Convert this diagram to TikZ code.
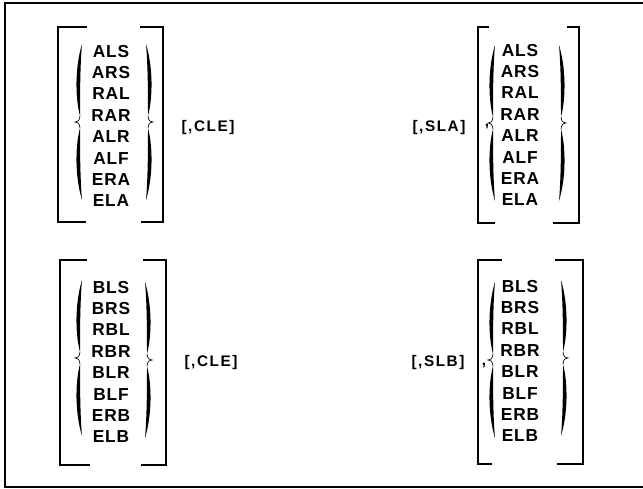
\documentclass[tikz,border=0pt]{standalone}
\usepackage{fontspec}
\setmainfont{Liberation Sans}
\newfontfamily\optfont[LetterSpace=5]{Liberation Sans}
\newfontfamily\keyfont[LetterSpace=10]{Liberation Sans}
\begin{document}
\begin{tikzpicture}[x=0.75pt, y=-0.75pt,
        opt/.style={font=\optfont\bfseries\fontsize{13}{16.05}\selectfont, align=center, inner sep=0pt},
        key/.style={font=\keyfont\bfseries\fontsize{11.5}{13}\selectfont, inner sep=0pt},
        bracket/.style={line width=1.1pt},
        frame/.style={line width=1.5pt},
        lbrace/.pic={
            \fill (7,-78) .. controls (0,-55) and (0,-25) .. (5,-6) .. controls (5,-25) and (5,-55) .. (7,-78) -- cycle;
            \fill (7,78) .. controls (0,55) and (0,25) .. (5,6) .. controls (5,25) and (5,55) .. (7,78) -- cycle;
            \draw[line width=0.5pt] (5,-6) .. controls (4,-1) .. (0,0) .. controls (4,1) .. (5,6);
        }]
        \useasboundingbox (0,0) rectangle (643,489);
        \draw[frame] (643,3) -- (5,3) -- (5,487) -- (643,487);

        % upper row
        \node[opt] (alist) at (111,126) {ALS\\ARS\\RAL\\RAR\\ALR\\ALF\\ERA\\ELA};
        \draw[bracket] (87,27) -- (58,27) -- (58,222) -- (86,222);
        \draw[bracket] (140,27) -- (163,27) -- (163,222) -- (141,222);
        \pic at (75,122) {lbrace};
        \pic[xscale=-1] at (153,122) {lbrace};
        \node[key] (cle1) at (208,128) {[,CLE]};

        \node[key] (sla) at (439,128) {[,SLA]};
        \node[key] (comma1) at (487,127) {,};
        \node[opt] (aopt) at (520,125) {ALS\\ARS\\RAL\\RAR\\ALR\\ALF\\ERA\\ELA};
        \draw[bracket] (489,27) -- (478,27) -- (478,223) -- (495,223);
        \draw[bracket] (567,27) -- (579,27) -- (579,223) -- (553,223);
        \pic at (488,123) {lbrace};
        \pic[xscale=-1] at (566,123) {lbrace};

        % lower row
        \node[opt] (blist) at (111,362) {BLS\\BRS\\RBL\\RBR\\BLR\\BLF\\ERB\\ELB};
        \draw[bracket] (87,260) -- (60,260) -- (60,465) -- (90,465);
        \draw[bracket] (143,260) -- (166,260) -- (166,465) -- (141,465);
        \pic at (75,358) {lbrace};
        \pic[xscale=-1] at (152,360) {lbrace};
        \node[key] (cle2) at (211,363) {[,CLE]};

        \node[key] (slb) at (438,363) {[,SLB]};
        \node[key] (comma2) at (484,366) {,};
        \node[opt] (bopt) at (520,361) {BLS\\BRS\\RBL\\RBR\\BLR\\BLF\\ERB\\ELB};
        \draw[bracket] (502,260) -- (478,260) -- (478,464) -- (492,464);
        \draw[bracket] (555,260) -- (583,260) -- (583,464) -- (557,464);
        \pic at (488,360) {lbrace};
        \pic[xscale=-1] at (568,358) {lbrace};
    \end{tikzpicture}
\end{document}
